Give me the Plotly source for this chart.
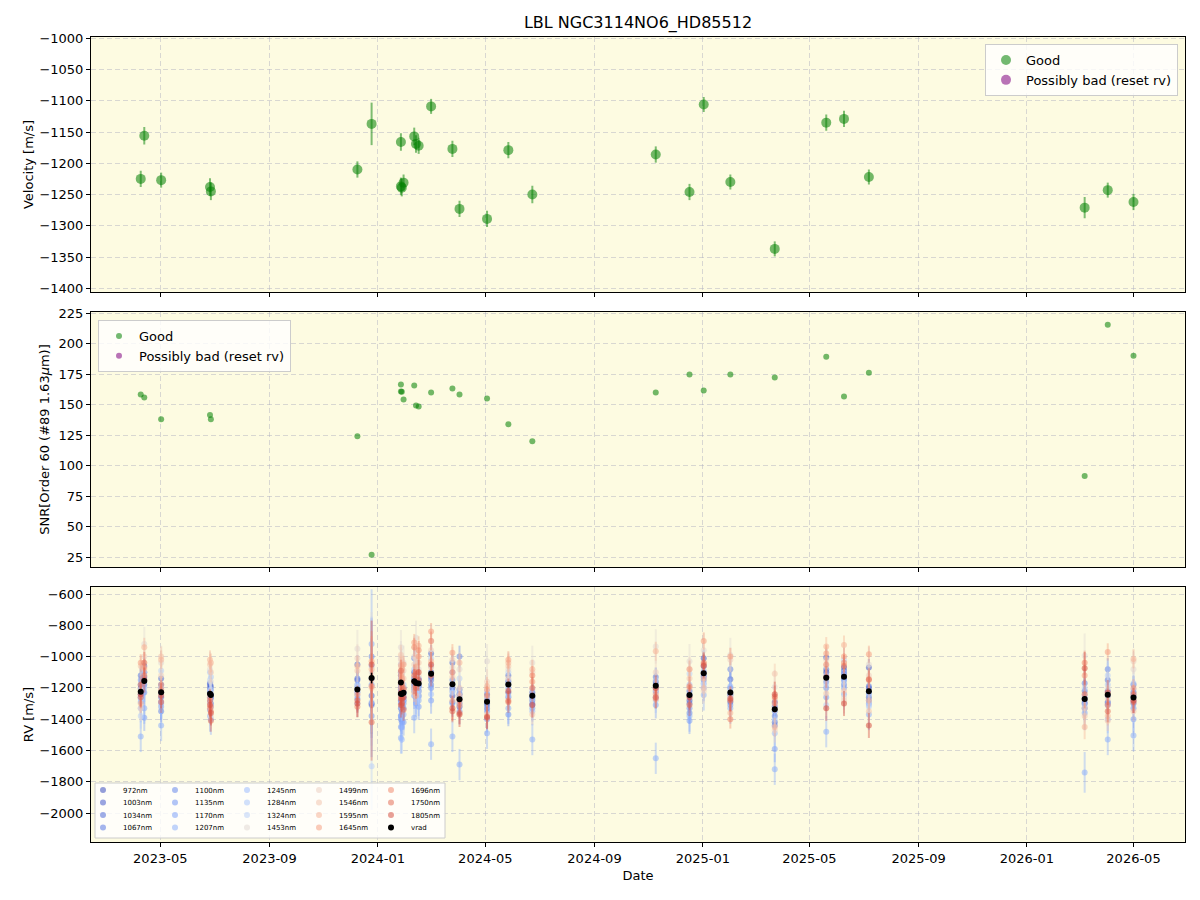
import plotly.graph_objects as go
from plotly.subplots import make_subplots

# ---------------- data ----------------
dates = ["2023-04-09", "2023-04-13", "2023-05-02", "2023-06-26", "2023-06-27",
         "2023-12-09", "2023-12-25", "2024-01-27", "2024-01-27", "2024-01-28",
         "2024-01-30", "2024-02-11", "2024-02-13", "2024-02-16", "2024-03-01",
         "2024-03-25", "2024-04-02", "2024-05-03", "2024-05-27", "2024-06-23",
         "2024-11-09", "2024-12-17", "2025-01-02", "2025-02-01", "2025-03-23",
         "2025-05-20", "2025-06-09", "2025-07-07", "2026-03-07", "2026-04-02",
         "2026-05-01"]
velocity = [-1225, -1156, -1227, -1238, -1245, -1210, -1137, -1166, -1237, -1239,
            -1231, -1157, -1169, -1172, -1109, -1177, -1273, -1289, -1179, -1250,
            -1186, -1246, -1106, -1230, -1337, -1135, -1129, -1222, -1271, -1243,
            -1262]
velocity_err = [13, 14, 12, 14, 14, 13, 34, 14, 14, 14, 13, 14, 14, 13, 12, 13, 13, 13,
                13, 14, 13, 13, 12, 12, 12, 13, 13, 12, 17, 12, 13]
snr = [158.4, 155.9, 138.0, 141.5, 138.0, 124.1, 27.0, 166.5, 160.8, 160.6, 154.3,
       165.7, 149.4, 148.6, 160.0, 163.3, 158.4, 155.1, 133.9, 120.0, 160.0, 174.7,
       161.6, 174.7, 172.3, 189.4, 156.7, 176.3, 91.5, 215.5, 190.2]

wavelength_nm = [972, 1003, 1034, 1067, 1100, 1135, 1170, 1207, 1245, 1284, 1324,
                 1453, 1499, 1546, 1595, 1645, 1696, 1750, 1805]
wavelengths = [f"{w}nm" for w in wavelength_nm]

rv_972 = [-1200, -1130, -1230, -1230, -1260, -1200, -1140, -1150, -1240, -1220, -1230,
          -1140, -1150, -1180, -1100, -1200, -1240, -1280, -1160, -1260, -1200, -1250,
          -1100, -1240, -1320, -1100, -1110, -1200, -1270, -1250, -1250]
rv_1003 = [-1180, -1100, -1180, -1180, -1240, -1150, -1300, -1120, -1280, -1260, -1200,
           -1100, -1200, -1150, -1130, -1250, -1320, -1300, -1230, -1230, -1160, -1280,
           -1010, -1290, -1290, -1005, -1090, -1070, -1300, -1290, -1230]
rv_1034 = [-1240, -1060, -1140, -1200, -1190, -1050, -1250, -1200, -1210, -1300, -1260,
           -1180, -1180, -1220, -980, -1040, -1210, -1240, -1120, -1310, -1180, -1220,
           -1060, -1145, -1420, -1080, -1070, -1260, -1330, -1220, -1180]
rv_1067 = [-1120, -1180, -1260, -1170, -1300, -1140, -1310, -1100, -1330, -1190, -1280,
           -1200, -1120, -1250, -1150, -1290, -1300, -1330, -1180, -1280, -1130, -1300,
           -1130, -1200, -1380, -1130, -1150, -1190, -1220, -1150, -1300]
rv_1100 = [-1260, -1150, -1350, -1260, -1210, -1270, -1000, -1180, -1380, -1350, -1330,
           -1010, -1260, -1190, -1180, -1150, -1000, -1310, -1260, -1250, -1220, -1360,
           -1150, -1080, -1440, -1160, -1180, -1280, -1170, -1080, -1280]
rv_1135 = [-1150, -1230, -1290, -1290, -1320, -1230, -1380, -1240, -1400, -1420, -1300,
           -1220, -1240, -1140, -1200, -1220, -1260, -1350, -1370, -1300, -1260, -1330,
           -1120, -1310, -1350, -1200, -1140, -1230, -1290, -1310, -1330]
rv_1170 = [-1290, -1390, -1320, -1340, -1270, -1180, -1180, -1290, -1450, -1380, -1420,
           -1250, -1300, -1320, -1280, -1300, -1350, -1400, -1200, -1330, -1310, -1410,
           -1200, -1250, -1590, -1260, -1200, -1300, -1360, -1300, -1400]
rv_1207 = [-1510, -1330, -1440, -1380, -1400, -1250, -920, -1380, -1520, -1450, -1370,
           -1390, -1220, -1280, -1560, -1510, -1690, -1490, -1330, -1530, -1650, -1380,
           -1245, -1330, -1720, -1480, -1240, -1370, -1740, -1530, -1505]
rv_1245 = [-1330, -1200, -1300, -1220, -1250, -1220, -1060, -1050, -1300, -1530, -1280,
           -1150, -1280, -1200, -1060, -1100, -1280, -1260, -1150, -1350, -1230, -1240,
           -1170, -1190, -1490, -1120, -1100, -1240, -1250, -1400, -1210]
rv_1284 = [-1270, -1160, -1200, -1100, -1130, -1300, -1290, -1210, -1260, -1330, -1180,
           -1080, -1190, -1260, -1240, -1180, -1230, -1220, -1250, -1270, -1280, -1180,
           -1090, -1270, -1400, -1180, -1160, -1310, -1310, -1180, -1170]
rv_1324 = [-1380, -1100, -1090, -1150, -1210, -1190, -1700, -1140, -1180, -1250, -1240,
           -1130, -1040, -1230, -1010, -1230, -1140, -1290, -1100, -1210, -1150, -1110,
           -1180, -1220, -1310, -1310, -1020, -1320, -1200, -1120, -1260]
rv_1453 = [-1210, -920, -1040, -1080, -1160, -950, -1100, -940, -1010, -1060, -1040,
           -1000, -880, -1080, -900, -1070, -1080, -1030, -1080, -1040, -935, -1030,
           -960, -990, -1195, -1060, -1260, -1050, -995, -1200, -1080]
rv_1499 = [-1330, -1000, -1120, -1300, -1380, -1010, -1150, -1020, -1100, -1120, -1090,
           -1050, -1010, -1120, -960, -1020, -1200, -1160, -1140, -1100, -1100, -1080,
           -1220, -1020, -1470, -1020, -1280, -1120, -1330, -1270, -1030]
rv_1546 = [-1060, -1080, -1000, -1050, -1100, -1090, -1200, -990, -1050, -1180, -1140,
           -1200, -1060, -1040, -1070, -1130, -1250, -1370, -1060, -1370, -1210, -1140,
           -1200, -1260, -1110, -1235, -1220, -1350, -1380, -1410, -1350]
rv_1595 = [-1300, -940, -1020, -1020, -1040, -1060, -1080, -1060, -1150, -1080, -1200,
           -1230, -1250, -930, -1030, -1280, -1040, -1190, -1040, -1080, -965, -1200,
           -1140, -1360, -1450, -935, -925, -1280, -1450, -1380, -1015]
rv_1645 = [-1040, -1070, -1180, -1260, -1320, -1240, -1030, -1120, -1200, -1140, -1050,
           -910, -1100, -1000, -840, -975, -1310, -1210, -1020, -1160, -1240, -1080,
           -900, -1000, -1270, -980, -1000, -985, -1120, -970, -1200]
rv_1696 = [-1180, -1120, -1210, -1330, -1350, -1320, -1190, -1170, -1250, -1230, -1210,
           -940, -1140, -960, -900, -1100, -1280, -1250, -1280, -1120, -1270, -1190,
           -1050, -1400, -1300, -1050, -1040, -1150, -1040, -1310, -1240]
rv_1750 = [-1260, -1040, -1290, -1280, -1410, -1280, -1420, -1090, -1270, -1300, -1340,
           -1120, -1200, -1150, -1120, -1350, -1360, -1390, -1290, -1200, -1260, -1310,
           -1040, -1280, -1255, -1130, -1060, -1145, -1240, -1350, -1290]
rv_1805 = [-1240, -1150, -1250, -1310, -1360, -1300, -1050, -1230, -1310, -1270, -1260,
           -1160, -1170, -1100, -1050, -1330, -1370, -1385, -1220, -1310, -1200, -1260,
           -1060, -1270, -1240, -1330, -1300, -1440, -1075, -1230, -1280]

# typical uncertainty of each band [m/s] and relative error level of each night
band_err = [60, 55, 55, 60, 70, 75, 85, 100, 90, 80, 80, 110, 80, 65, 60, 55, 60, 70, 80]
night_err = [1.0, 1.0, 1.0, 1.0, 1.0, 1.1, 3.5, 1.0, 1.0, 1.0, 1.0, 1.0, 1.0, 1.0, 1.0,
             1.0, 1.0, 1.0, 1.0, 1.0, 1.0, 1.0, 1.0, 1.0, 1.0, 1.0, 1.0, 1.0, 1.3, 1.0, 1.0]

rv_bands = [rv_972, rv_1003, rv_1034, rv_1067, rv_1100, rv_1135, rv_1170, rv_1207,
            rv_1245, rv_1284, rv_1324, rv_1453, rv_1499, rv_1546, rv_1595, rv_1645,
            rv_1696, rv_1750, rv_1805]

# ---------------- style ----------------
FONT = "DejaVu Sans"
BG = "#fdfbe1"
GRID = "rgba(170,170,190,0.45)"
COOLWARM = ['#3b4cc0', '#5977e3', '#7b9ff9', '#9ebeff', '#c0d4f5', '#dddcdc',
            '#f2cbb7', '#f7ac8e', '#ee8468', '#d65244', '#b40426']


def hex2rgb(h):
    return tuple(int(h[i:i + 2], 16) for i in (1, 3, 5))


def coolwarm(t, a):
    pos = t * (len(COOLWARM) - 1)
    i = min(int(pos), len(COOLWARM) - 2)
    f = pos - i
    c0, c1 = hex2rgb(COOLWARM[i]), hex2rgb(COOLWARM[i + 1])
    c = [round(c0[k] + (c1[k] - c0[k]) * f) for k in range(3)]
    return f"rgba({c[0]},{c[1]},{c[2]},{a})"


fig = make_subplots(rows=3, cols=1, shared_xaxes=True, vertical_spacing=0.02)

# top panel
fig.add_trace(go.Scatter(
    x=dates, y=velocity, mode="markers", name="Good",
    marker=dict(color="rgba(0,128,0,0.55)", size=10, line=dict(width=0)),
    error_y=dict(type="data", array=velocity_err, color="rgba(0,128,0,0.5)",
                 thickness=2, width=0),
    legend="legend"), row=1, col=1)
fig.add_trace(go.Scatter(
    x=[None], y=[None], mode="markers", name="Possibly bad (reset rv)",
    marker=dict(color="rgba(128,0,128,0.55)", size=10),
    legend="legend"), row=1, col=1)

# middle panel
fig.add_trace(go.Scatter(
    x=dates, y=snr, mode="markers", name="Good",
    marker=dict(color="rgba(0,128,0,0.55)", size=6, line=dict(width=0)),
    legend="legend2"), row=2, col=1)
fig.add_trace(go.Scatter(
    x=[None], y=[None], mode="markers", name="Possibly bad (reset rv)",
    marker=dict(color="rgba(128,0,128,0.55)", size=6),
    legend="legend2"), row=2, col=1)

# bottom panel
row_legends = ["legend3", "legend4", "legend5", "legend6"]
wmin, wmax = min(wavelength_nm), max(wavelength_nm)
for i, (name, vals) in enumerate(zip(wavelengths, rv_bands)):
    errs = [band_err[i] * s for s in night_err]
    t = 0.9 * (wavelength_nm[i] - wmin) / (wmax - wmin)
    fig.add_trace(go.Scatter(
        x=dates, y=vals, mode="markers", name=name,
        marker=dict(color=coolwarm(t, 0.55), size=6, line=dict(width=0)),
        error_y=dict(type="data", array=errs, color=coolwarm(t, 0.42),
                     thickness=2, width=0),
        legend=row_legends[i % 4], legendrank=i // 4 + 1), row=3, col=1)
fig.add_trace(go.Scatter(
    x=dates, y=velocity, mode="markers", name="vrad",
    marker=dict(color="black", size=6),
    error_y=dict(type="data", array=velocity_err, color="black", thickness=1.5, width=0),
    legend="legend6", legendrank=5), row=3, col=1)

# ---------------- layout ----------------
W, H = 1200, 900
ML, MR, MT, MB = 91, 15, 37, 58
pw, ph = W - ML - MR, H - MT - MB


def py(p):  # pixel y -> paper
    return (H - MB - p) / ph


def px(p):
    return (p - ML) / pw


axis_common = dict(showline=True, linecolor="black", linewidth=1, mirror=True,
                   ticks="outside", ticklen=4, tickcolor="black",
                   showgrid=True, gridcolor=GRID, griddash="5px,3px", gridwidth=1,
                   zeroline=False, tickfont=dict(size=13, color="black"))
for i in (1, 2, 3):
    fig.update_layout(**{f"xaxis{'' if i == 1 else i}": dict(
        axis_common, type="date", range=["2023-02-12", "2026-06-28"],
        tick0="2023-01-01", dtick="M4", tickformat="%Y-%m")})

fig.update_layout(
    yaxis=dict(axis_common, domain=[py(292), 1.0], range=[-1406, -998], dtick=50,
               title=dict(text="Velocity [m/s]", font=dict(size=13), standoff=2)),
    yaxis2=dict(axis_common, domain=[py(567), py(312)], range=[17, 226], dtick=25,
                title=dict(text="SNR[Order 60 (#89 1.63<i>μ</i>m)]", font=dict(size=13),
                           standoff=6)),
    yaxis3=dict(axis_common, domain=[0, py(587)], range=[-2185, -555], dtick=200,
                title=dict(text="RV [m/s]", font=dict(size=13), standoff=2)),
)
fig.update_layout(xaxis3=dict(title=dict(text="Date", font=dict(size=13), standoff=6)))

leg_box = dict(bgcolor="rgba(255,255,255,0.8)", bordercolor="#cccccc", borderwidth=1,
               font=dict(size=13, color="black"))
small = dict(bgcolor="rgba(0,0,0,0)", borderwidth=0, orientation="h",
             font=dict(size=7, color="black"), entrywidth=27, entrywidthmode="pixels",
             xanchor="left", yanchor="middle", tracegroupgap=0)
fig.update_layout(
    width=W, height=H, margin=dict(l=ML, r=MR, t=MT, b=MB),
    paper_bgcolor="white", plot_bgcolor=BG,
    font=dict(family=FONT, color="black", size=13),
    title=dict(text="LBL NGC3114NO6_HD85512", x=0.5, xref="paper", xanchor="center",
               y=1 - 22 / H, yanchor="middle", font=dict(size=16)),
    legend=dict(leg_box, x=px(1178), y=py(44), xanchor="right", yanchor="top"),
    legend2=dict(leg_box, x=px(98), y=py(320), xanchor="left", yanchor="top"),
    legend3=dict(small, x=px(83), y=py(790)),
    legend4=dict(small, x=px(83), y=py(802.5)),
    legend5=dict(small, x=px(83), y=py(815)),
    legend6=dict(small, x=px(83), y=py(827.5)),
    shapes=[dict(type="rect", xref="paper", yref="paper", x0=px(95), x1=px(445),
                 y0=py(838), y1=py(783), fillcolor="rgba(255,255,255,0.8)",
                 line=dict(color="#cccccc", width=1), layer="above")],
)

fig.write_html("out.html")
